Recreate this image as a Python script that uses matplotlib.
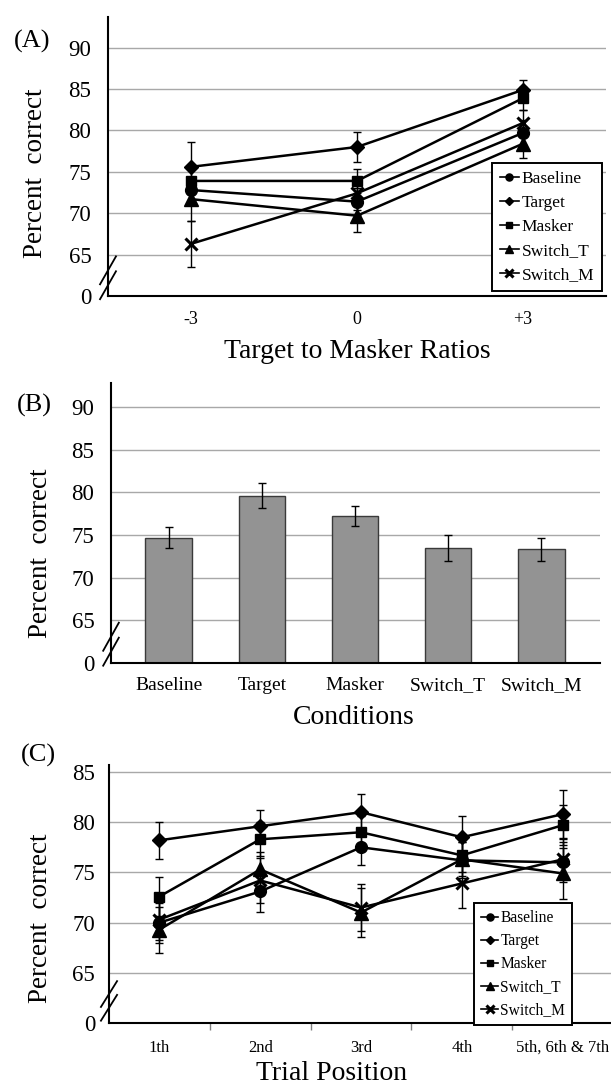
import numpy as np
import matplotlib
matplotlib.use('Agg')
import matplotlib.pyplot as plt
import matplotlib.transforms as mtransforms

plt.rcParams['font.family'] = ['Liberation Serif', 'DejaVu Serif']

# Panel A: percent correct by target-to-masker ratio
tmr_labels = ['-3', '0', '+3']
a_baseline = [72.8, 71.4, 79.7]
a_baseline_err = [1.5, 1.6, 1.5]
a_target = [75.6, 78.0, 84.9]
a_target_err = [3.0, 1.8, 1.2]
a_masker = [73.9, 73.9, 83.9]
a_masker_err = [1.6, 1.5, 1.4]
a_switch_t = [71.7, 69.7, 78.4]
a_switch_t_err = [2.6, 2.0, 1.7]
a_switch_m = [66.3, 72.4, 80.9]
a_switch_m_err = [2.8, 2.0, 1.6]

# Panel B: percent correct by condition
conditions = ['Baseline', 'Target', 'Masker', 'Switch_T', 'Switch_M']
b_values = [74.7, 79.6, 77.25, 73.45, 73.3]
b_err = [1.25, 1.45, 1.15, 1.5, 1.4]

# Panel C: percent correct by trial position
trial_labels = ['1th', '2nd', '3rd', '4th', '5th, 6th & 7th']
c_baseline = [70.0, 73.1, 77.5, 76.2, 76.0]
c_baseline_err = [2.0, 2.0, 1.8, 1.8, 2.0]
c_target = [78.2, 79.6, 81.0, 78.5, 80.8]
c_target_err = [1.85, 1.65, 1.8, 2.1, 2.4]
c_masker = [72.6, 78.3, 79.0, 76.7, 79.7]
c_masker_err = [1.9, 1.7, 1.6, 1.7, 2.0]
c_switch_t = [69.3, 75.3, 71.0, 76.3, 74.9]
c_switch_t_err = [2.3, 1.7, 2.4, 1.7, 2.5]
c_switch_m = [70.3, 74.2, 71.5, 73.9, 76.3]
c_switch_m_err = [2.0, 2.2, 2.3, 2.4, 2.0]

series_names = ['Baseline', 'Target', 'Masker', 'Switch_T', 'Switch_M']
markers = {'Baseline': ('o', 8.5, 1), 'Target': ('D', 7, 1), 'Masker': ('s', 7.5, 1),
           'Switch_T': ('^', 9.5, 1), 'Switch_M': ('x', 9, 2.2)}

W, H = 611, 1090
fig = plt.figure(figsize=(W / 100, H / 100), dpi=100)


def box(left, right, top, bottom):
    return [left / W, 1 - bottom / H, (right - left) / W, (bottom - top) / H]


def style_axes(ax, ymax, yticks_pad):
    ticks = [60, 65, 70, 75, 80, 85, 90]
    ticks = [t for t in ticks if t <= ymax]
    ax.set_ylim(60, ymax)
    ax.set_yticks(ticks)
    ax.set_yticklabels(['0'] + [str(t) for t in ticks[1:]])
    ax.yaxis.grid(True, color='#a8a8a8', linewidth=1.0)
    ax.set_axisbelow(True)
    for s in ['top', 'right']:
        ax.spines[s].set_visible(False)
    for s in ['left', 'bottom']:
        ax.spines[s].set_linewidth(1.5)
        ax.spines[s].set_color('black')
    ax.tick_params(axis='y', length=0, pad=yticks_pad, labelsize=16.5)
    # axis break marks
    tr = mtransforms.blended_transform_factory(ax.transAxes, ax.transData)
    span = (ymax - 60) / 30.0
    for off in (-0.8, 0.8):
        ax.plot([-0.016, 0.016], [62.2 + (off - 1.5) * span, 62.2 + (off + 1.5) * span],
                transform=tr, color='black', lw=1.3, clip_on=False)


def draw_lines(ax, x, data):
    for name, (vals, errs) in zip(series_names, data):
        m, ms, mew = markers[name]
        ax.errorbar(x, vals, yerr=errs, fmt='none', ecolor='black',
                    elinewidth=1.0, capsize=3, capthick=1.0)
        ax.plot(x, vals, color='black', lw=1.8, marker=m, markersize=ms,
                markeredgewidth=mew, markerfacecolor='black', label=name)


def add_legend(ax, left, top, fontsize):
    leg = ax.legend(loc='upper left', bbox_to_anchor=(left / W, 1 - top / H),
                    bbox_transform=fig.transFigure, fontsize=fontsize,
                    frameon=True, fancybox=False, framealpha=1, edgecolor='black',
                    handlelength=1.1, handletextpad=0.15, labelspacing=0.45,
                    borderpad=0.45, borderaxespad=0, markerscale=0.6)
    leg.get_frame().set_linewidth(1.4)
    for h in leg.legend_handles:
        h.set_linewidth(1.2)


# ---------- Panel A ----------
axA = fig.add_axes(box(108, 606, 17, 296))
xa = np.arange(len(tmr_labels))
draw_lines(axA, xa, [(a_baseline, a_baseline_err), (a_target, a_target_err),
                     (a_masker, a_masker_err), (a_switch_t, a_switch_t_err),
                     (a_switch_m, a_switch_m_err)])
axA.set_xlim(-0.5, 2.5)
axA.set_xticks(xa)
axA.set_xticklabels(tmr_labels)
axA.tick_params(axis='x', length=0, pad=11, labelsize=13)
style_axes(axA, 93.7, 12)
add_legend(axA, 492, 163, 12.5)

# ---------- Panel B ----------
axB = fig.add_axes(box(111, 600, 383, 663))
xb = np.arange(len(conditions))
axB.bar(xb, b_values, width=0.5, color='#939393', edgecolor='#3a3a3a', linewidth=1.0)
axB.errorbar(xb, b_values, yerr=b_err, fmt='none', ecolor='black',
             elinewidth=1.0, capsize=3, capthick=1.0)
axB.set_xlim(-0.62, 4.63)
axB.set_xticks(xb)
axB.set_xticklabels(conditions)
axB.tick_params(axis='x', length=0, pad=10, labelsize=14)
style_axes(axB, 92.8, 12)

# ---------- Panel C ----------
axC = fig.add_axes(box(109, 613, 765, 1023))
xc = np.arange(len(trial_labels))
draw_lines(axC, xc, [(c_baseline, c_baseline_err), (c_target, c_target_err),
                     (c_masker, c_masker_err), (c_switch_t, c_switch_t_err),
                     (c_switch_m, c_switch_m_err)])
axC.set_xlim(-0.5, 4.5)
axC.set_xticks(xc)
axC.set_xticklabels(trial_labels)
axC.set_xticks(np.arange(0.5, 4.0, 1.0), minor=True)
axC.tick_params(axis='x', which='major', length=0, pad=12, labelsize=12)
axC.tick_params(axis='x', which='minor', length=5, width=1, color='#808080')
style_axes(axC, 85.7, 10)
add_legend(axC, 474, 903, 11.2)

# ---------- labels ----------
def ftext(x, y, s, size, rot=0):
    fig.text(x / W, 1 - y / H, s, fontsize=size, rotation=rot,
             ha='center', va='center')

ftext(32, 41, '(A)', 19)
ftext(34, 405, '(B)', 19)
ftext(38, 755, '(C)', 19)
ftext(36, 173, 'Percent  correct', 19.5, 90)
ftext(41, 553, 'Percent  correct', 19.5, 90)
ftext(41, 918, 'Percent  correct', 19.5, 90)
ftext(357, 352, 'Target to Masker Ratios', 20)
ftext(354, 718, 'Conditions', 20)
ftext(332, 1074, 'Trial Position', 20)

fig.savefig('out.png', dpi=100)
